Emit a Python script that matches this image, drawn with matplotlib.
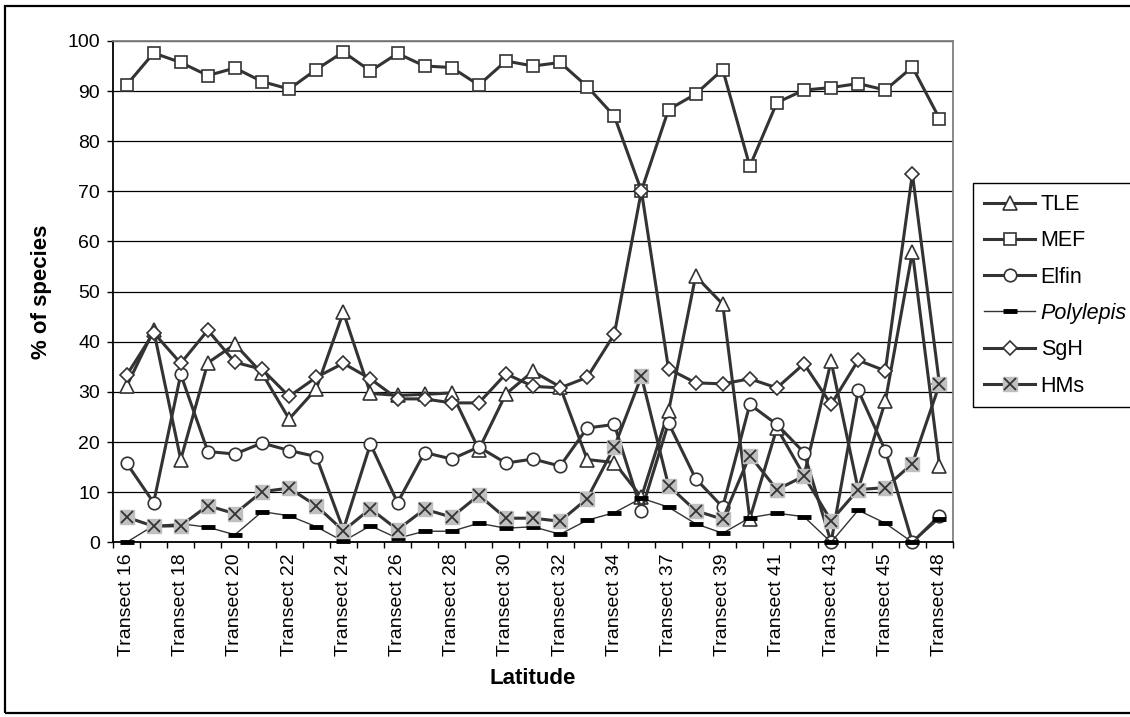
import numpy as np
import matplotlib.pyplot as plt
from matplotlib.legend_handler import HandlerTuple
from matplotlib.patches import Rectangle

plt.rcParams['font.family'] = ['Liberation Sans', 'DejaVu Sans']

# Transects along the latitude gradient
transects = ['Transect 16', 'Transect 17', 'Transect 18', 'Transect 19', 'Transect 20',
             'Transect 21', 'Transect 22', 'Transect 23', 'Transect 24', 'Transect 25',
             'Transect 26', 'Transect 27', 'Transect 28', 'Transect 29', 'Transect 30',
             'Transect 31', 'Transect 32', 'Transect 33', 'Transect 34', 'Transect 36',
             'Transect 37', 'Transect 38', 'Transect 39', 'Transect 40', 'Transect 41',
             'Transect 42', 'Transect 43', 'Transect 44', 'Transect 45', 'Transect 47',
             'Transect 48']

# % of species per habitat
tle = [31.1, 42.3, 16.5, 35.8, 39.5, 33.7, 24.6, 30.6, 45.9, 29.7, 29.3, 29.5, 29.8, 18.5, 29.6,
       34.1, 31.0, 16.5, 15.9, 9.0, 26.1, 53.1, 47.5, 4.7, 22.8, 13.3, 36.1, 10.5, 28.1, 57.9, 15.3]
mef = [91.2, 97.6, 95.7, 93.1, 94.6, 91.9, 90.4, 94.3, 97.8, 94.0, 97.5, 95.0, 94.7, 91.2, 96.0,
       95.0, 95.7, 90.9, 85.0, 70.1, 86.3, 89.4, 94.3, 75.0, 87.7, 90.2, 90.7, 91.5, 90.2, 94.8, 84.5]
elfin = [15.8, 7.9, 33.5, 18.1, 17.6, 19.8, 18.3, 17.1, 2.5, 19.6, 7.9, 17.9, 16.6, 19.0, 15.8,
         16.6, 15.2, 22.8, 23.5, 6.3, 23.8, 12.7, 7.0, 27.5, 23.5, 17.9, 0.0, 30.3, 18.3, 0.0, 5.3]
polylepis = [0.0, 3.3, 3.7, 3.0, 1.5, 6.1, 5.3, 3.1, 0.2, 3.3, 0.8, 2.2, 2.2, 3.8, 2.8,
             3.1, 1.6, 4.4, 5.9, 8.8, 7.0, 3.7, 1.8, 4.9, 5.8, 5.1, 0.0, 6.4, 3.8, 0.0, 4.7]
sgh = [33.3, 41.8, 35.7, 42.3, 35.9, 34.5, 29.1, 32.9, 35.7, 32.6, 28.6, 28.6, 27.8, 27.8, 33.6,
       31.1, 30.8, 32.9, 41.5, 70.1, 34.6, 31.8, 31.6, 32.6, 30.8, 35.6, 27.5, 36.3, 34.2, 73.5, 31.5]
hms = [5.0, 3.2, 3.3, 7.3, 5.7, 10.1, 10.8, 7.3, 2.3, 6.7, 2.5, 6.6, 5.0, 9.4, 4.8,
       4.8, 4.2, 8.7, 19.0, 33.1, 11.3, 6.3, 4.6, 17.3, 10.5, 13.2, 4.3, 10.5, 10.9, 15.7, 31.5]

dark = '#333333'
x = np.arange(len(transects))

fig = plt.figure(figsize=(11.3, 7.17), dpi=100)
ax = fig.add_axes([0.1, 0.2437, 0.7434, 0.6992])

l_tle, = ax.plot(x, tle, color=dark, lw=2.2, marker='^', ms=10, mfc='white', mec=dark, mew=1.2, clip_on=False)
l_mef, = ax.plot(x, mef, color=dark, lw=2.2, marker='s', ms=9, mfc='white', mec=dark, mew=1.2, clip_on=False)
l_elf, = ax.plot(x, elfin, color=dark, lw=2.2, marker='o', ms=9, mfc='white', mec=dark, mew=1.2, clip_on=False)
l_pol, = ax.plot(x, polylepis, color=dark, lw=1.0, marker='_', ms=10, mec='black', mew=3.5, clip_on=False)
l_sgh, = ax.plot(x, sgh, color=dark, lw=2.2, marker='D', ms=7, mfc='white', mec=dark, mew=1.2, clip_on=False)
l_hms, = ax.plot(x, hms, color=dark, lw=2.2, marker='s', ms=10, mfc='#c0c0c0', mec='#c0c0c0', clip_on=False)
l_hmx, = ax.plot(x, hms, ls='none', marker='x', ms=8, mec=dark, mew=1.3, clip_on=False)

ax.set_xlim(-0.5, len(transects) - 0.5)
ax.set_ylim(0, 100)

# every other transect labelled, ticks between categories
ax.set_xticks(x[::2])
ax.set_xticklabels(transects[::2], rotation=90, fontsize=14)
ax.set_xticks(np.arange(-0.5, len(transects), 1), minor=True)
ax.tick_params(axis='x', which='major', length=0, pad=8)
ax.tick_params(axis='x', which='minor', length=4.3, width=1, direction='out')
ax.set_yticks(range(0, 101, 10))
ax.tick_params(axis='y', length=4.3, width=1, pad=5, labelsize=14)

ax.yaxis.grid(True, color='black', lw=0.9)
ax.set_axisbelow(True)
for s in ['left', 'bottom']:
    ax.spines[s].set_color('black')
    ax.spines[s].set_linewidth(1.3)
for s in ['top', 'right']:
    ax.spines[s].set_color('#808080')
    ax.spines[s].set_linewidth(1.3)

fig.text(42 / 1130, 0.593, '% of species', rotation=90, ha='center', va='center',
         fontsize=16, fontweight='bold')
fig.text(0.1 + 0.7434 / 2, 0.054, 'Latitude', ha='center', va='center',
         fontsize=16, fontweight='bold')

leg = ax.legend([l_tle, l_mef, l_elf, l_pol, l_sgh, (l_hms, l_hmx)],
                ['TLE', 'MEF', 'Elfin', 'Polylepis', 'SgH', 'HMs'],
                handler_map={tuple: HandlerTuple(ndivide=1, pad=0)},
                loc='upper left', bbox_to_anchor=(0.861, 0.7443), bbox_transform=fig.transFigure,
                fancybox=False, edgecolor='black', framealpha=1, fontsize=15.5,
                borderpad=0.5, handlelength=2.4, handletextpad=0.25, labelspacing=0.71,
                borderaxespad=0)
leg.get_frame().set_linewidth(1.0)
leg.get_texts()[3].set_fontstyle('italic')

# outer chart frame
fig.add_artist(Rectangle((5 / 1130, 1 - 713 / 717), 1.2, 707 / 717, transform=fig.transFigure,
                         fill=False, lw=1.6, ec='black'))

fig.savefig('out.png', dpi=100)
